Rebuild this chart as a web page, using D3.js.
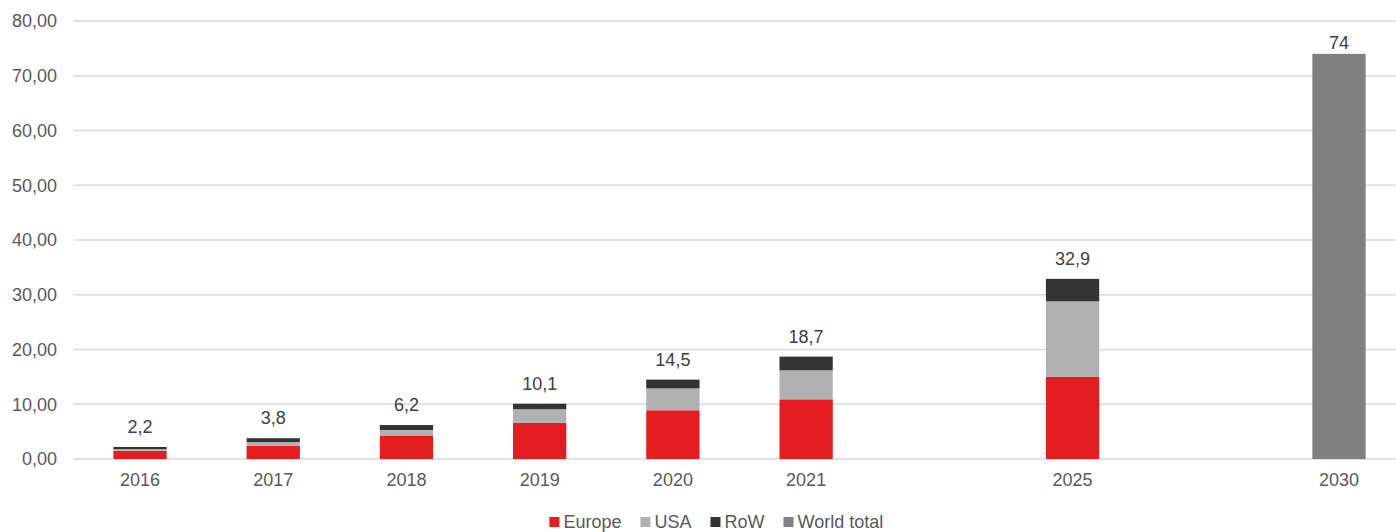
<!DOCTYPE html>
<html>
<head>
<meta charset="utf-8">
<script src="https://cdn.jsdelivr.net/npm/d3@7/dist/d3.min.js"></script>
<style>
  html, body { margin: 0; padding: 0; background: #fff; overflow: hidden; }
  text { font-family: "Liberation Sans", Arial, sans-serif; }
</style>
</head>
<body>
<svg id="chart" width="1396" height="532"></svg>
<script>
// Category slots; the two blank slots leave room on the time axis
const categories = ["2016", "2017", "2018", "2019", "2020", "2021", "", "2025", " ", "2030"];
const years = ["2016", "2017", "2018", "2019", "2020", "2021", "2025"];
const europe = [1.5, 2.4, 4.3, 6.6, 8.9, 10.9, 15.0];
const usa = [0.3, 0.7, 1.0, 2.5, 4.0, 5.3, 13.8];
const row = [0.4, 0.7, 0.9, 1.0, 1.6, 2.5, 4.1];
const totals = [2.2, 3.8, 6.2, 10.1, 14.5, 18.7, 32.9];
const worldYears = ["2030"];
const worldTotal = [74];
const yTicks = [0, 10, 20, 30, 40, 50, 60, 70, 80];
const seriesNames = ["Europe", "USA", "RoW", "World total"];
const seriesColors = ["#E41E20", "#B1B1B1", "#333333", "#808080"];

const svg = d3.select("#chart");
const x = d3.scaleBand().domain(categories).range([73.4, 1405.6])
  .paddingInner(0.6).paddingOuter(0.3);
const y = d3.scaleLinear().domain([0, 80]).range([459, 21]);
const fmtAxis = v => d3.format(".2f")(v).replace(".", ",");
const fmtVal = v => String(v).replace(".", ",");

// Horizontal gridlines
svg.append("g").selectAll("line").data(yTicks).join("line")
  .attr("x1", 73.4).attr("x2", 1405.6)
  .attr("y1", d => y(d)).attr("y2", d => y(d))
  .attr("stroke", "#D9D9D9").attr("stroke-width", 1.6);

// Y axis labels
const yAxis = svg.append("g").attr("transform", "translate(57,0)")
  .call(d3.axisLeft(y).tickValues(yTicks).tickFormat(fmtAxis).tickSize(0).tickPadding(0));
yAxis.select(".domain").remove();
yAxis.selectAll("text").attr("font-size", 18).attr("fill", "#595959")
  .attr("font-family", "Liberation Sans, Arial, sans-serif");

// X axis labels
const xAxis = svg.append("g").attr("transform", "translate(0,459)")
  .call(d3.axisBottom(x).tickSize(0).tickPadding(14));
xAxis.select(".domain").remove();
xAxis.selectAll("text").attr("font-size", 18).attr("fill", "#595959")
  .attr("font-family", "Liberation Sans, Arial, sans-serif");

// Stacked regional bars
const rows = years.map((yr, i) => ({ year: yr, Europe: europe[i], USA: usa[i], RoW: row[i], total: totals[i] }));
const stack = d3.stack().keys(["Europe", "USA", "RoW"])(rows);
svg.append("g").selectAll("g").data(stack).join("g")
  .attr("fill", (d, i) => seriesColors[i])
  .selectAll("rect").data(d => d).join("rect")
  .attr("x", d => x(d.data.year))
  .attr("width", x.bandwidth())
  .attr("y", d => y(d[1]))
  .attr("height", d => y(d[0]) - y(d[1]));

// World total bar
svg.append("g").selectAll("rect").data(worldYears).join("rect")
  .attr("x", d => x(d)).attr("width", x.bandwidth())
  .attr("y", (d, i) => y(worldTotal[i]))
  .attr("height", (d, i) => y(0) - y(worldTotal[i]))
  .attr("fill", seriesColors[3]);

// Value labels above bars (kept inside the plot area)
const labels = years.map((yr, i) => ({ cat: yr, v: totals[i] }))
  .concat(worldYears.map((yr, i) => ({ cat: yr, v: worldTotal[i] })));
svg.append("g").selectAll("text").data(labels).join("text")
  .attr("x", d => x(d.cat) + x.bandwidth() / 2)
  .attr("y", d => Math.max(y(d.v) - 14, 49.3))
  .attr("text-anchor", "middle")
  .attr("font-size", 18).attr("fill", "#404040")
  .text(d => fmtVal(d.v));

// Legend
const legend = svg.append("g");
let cursor = 0;
seriesNames.forEach((name, i) => {
  const g = legend.append("g").attr("transform", `translate(${cursor},0)`);
  g.append("rect").attr("x", 0).attr("y", 517).attr("width", 10).attr("height", 10)
    .attr("fill", seriesColors[i]);
  const t = g.append("text").attr("x", 14).attr("y", 528)
    .attr("font-size", 18).attr("fill", "#595959").text(name);
  cursor += 14 + t.node().getComputedTextLength() + 19;
});
const legendWidth = cursor - 19;
legend.attr("transform", `translate(${716.3 - legendWidth / 2},0)`);
</script>
</body>
</html>
